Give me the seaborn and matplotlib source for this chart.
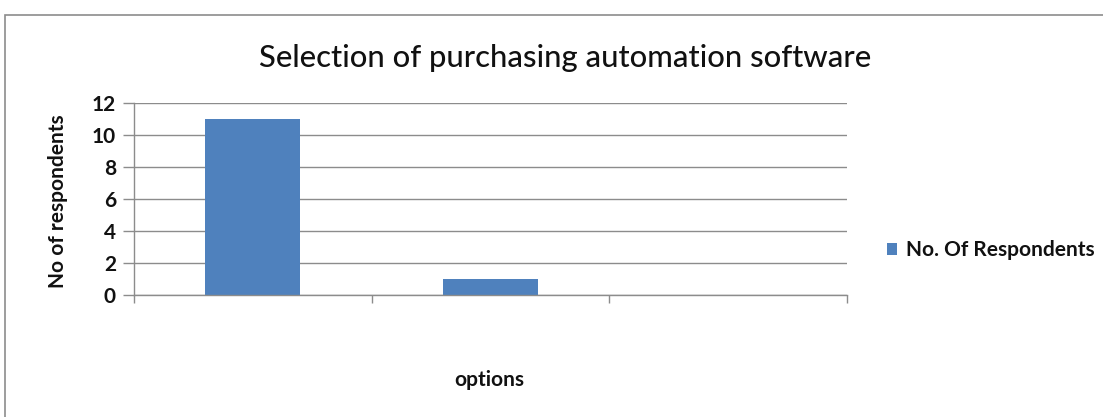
import matplotlib
matplotlib.use("Agg")
import matplotlib.pyplot as plt
import seaborn as sns
import pandas as pd
from matplotlib.patches import Rectangle

# Survey results
categories = ["Option 1", "Option 2", "Option 3"]
respondents = [11, 1, 0]
series_name = "No. Of Respondents"
y_ticks = [0, 2, 4, 6, 8, 10, 12]

df = pd.DataFrame({"option": categories, "count": respondents, "series": series_name})

sns.set_theme(style="white")
plt.rcParams["font.family"] = ["Lato", "DejaVu Sans"]

fig = plt.figure(figsize=(11.03, 4.17), dpi=100)
ax = fig.add_axes([0.1215, 0.2926, 0.6464, 0.4604])

bar_color = "#4F81BD"
grid_color = "#8C8C8C"
text_color = "#111111"
label_size = 15

sns.barplot(data=df, x="option", y="count", hue="series", palette=[bar_color],
            width=0.4, ax=ax, saturation=1, edgecolor="none")

ax.set_ylim(0, 12)
ax.set_xlim(-0.5, 2.5)
ax.set_yticks(y_ticks)
ax.set_yticklabels([str(v) for v in y_ticks], fontsize=label_size, fontweight="bold",
                   color=text_color)
ax.set_xticks([-0.5, 0.5, 1.5, 2.5])
ax.set_xticklabels([])
ax.yaxis.grid(True, color=grid_color, linewidth=1)
ax.set_axisbelow(True)
ax.tick_params(axis="y", length=8, width=1, color=grid_color, pad=5, left=True)
ax.tick_params(axis="x", length=6, width=1, color=grid_color, bottom=True, direction="out")

for side in ["top", "right"]:
    ax.spines[side].set_visible(False)
for side in ["left", "bottom"]:
    ax.spines[side].set_color(grid_color)
    ax.spines[side].set_linewidth(1)

ax.set_ylabel("")
ax.set_xlabel("")
fig.text(58 / 1103, 1 - 201 / 417, "No of respondents", rotation=90, fontsize=label_size,
         fontweight="bold", color=text_color, ha="center", va="center")
fig.text(0.444, 0.088, "options", fontsize=label_size, fontweight="bold", color=text_color,
         ha="center", va="center")

fig.text(0.512, 0.861, "Selection of purchasing automation software", fontsize=22.3,
         fontweight="medium", color=text_color, ha="center", va="center")

leg = ax.legend(loc="center left", bbox_to_anchor=(0.7965, 0.40), bbox_transform=fig.transFigure,
                frameon=False, fontsize=label_size, handlelength=0.5, handleheight=0.5,
                handletextpad=0.4, borderaxespad=0)
for t in leg.get_texts():
    t.set_fontweight("bold")
    t.set_color(text_color)

# Chart border
fig.patches.append(Rectangle((5 / 1103, -0.1), 1.2, 1 - 15 / 417 + 0.1,
                             transform=fig.transFigure, fill=False,
                             edgecolor="#8C8C8C", linewidth=1.2))

fig.savefig("out.png", dpi=100, facecolor="white")
